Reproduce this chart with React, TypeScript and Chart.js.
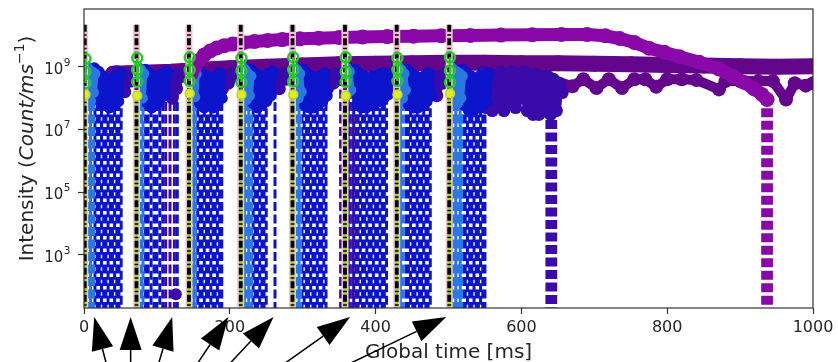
import React, { useEffect, useRef } from 'react';
import { Chart, registerables } from 'chart.js';

Chart.register(...registerables);

// ---------------- axis ticks ----------------
const xTickValues = [0, 200, 400, 600, 800, 1000];
const yTickValues = [1e3, 1e5, 1e7, 1e9];
const yTickExponents = ['3', '5', '7', '9'];

// ---------------- pulse markers (black dash-dot lines) ----------------
const pulseTimes = [1, 72, 144, 215, 286, 358, 429, 501];
const pulseTop = 2.2e10;
const ringTimes = [2, 73, 145, 216, 287, 359, 430, 502];
const ringHigh = [1.8e9, 1.9e9, 2e9, 1.9e9, 2e9, 2e9, 1.9e9, 2e9];
const ringMid = [7e8, 8e8, 8e8, 7.5e8, 8e8, 7e8, 8e8, 7.5e8];
const ringLow = [3e8, 3.3e8, 3.5e8, 3.2e8, 3.4e8, 3.3e8, 3.5e8, 3.2e8];
const yellowValues = [1.3e8, 1.2e8, 1.4e8, 1.3e8, 1.3e8, 1.2e8, 1.3e8, 1.4e8];

// ---------------- bursts after each pulse ----------------
const lightBursts: number[][][] = [
  [[3, 1.1e9], [5, 1.4e8], [7, 8e8], [9, 8e7], [11, 7e8], [13, 1.5e8], [15, 6e8]],
  [[74, 1e9], [76, 1.5e8], [78, 8e8], [80, 1e8], [82, 6e8]],
  [[146, 1e9], [148, 1.4e8], [150, 8e8], [152, 1.1e8], [154, 6e8]],
  [[217, 1e9], [219, 1.5e8], [221, 8e8], [223, 9e7], [225, 6e8], [227, 1.2e8], [229, 5e8]],
  [[288, 1e9], [290, 1.4e8], [292, 8e8], [294, 1e8], [296, 6e8], [298, 1.6e8]],
  [[360, 9e8], [362, 1.5e8], [364, 7e8], [366, 1.8e8]],
  [[431, 1e9], [433, 1.4e8], [435, 8e8], [437, 1e8], [439, 6e8], [441, 1.8e8]],
  [[503, 1e9], [505, 1.4e8], [507, 8e8], [509, 9e7], [511, 7e8], [513, 7e7], [515, 6e8], [517, 1e8], [519, 5e8]],
];

const blueBursts: number[][][] = [
  [[14, 9e8], [17, 1.1e8], [20, 7e8], [23, 8e7], [26, 5e8], [29, 6e7], [32, 3.5e8], [35, 5e7], [38, 4e8], [41, 6e7], [44, 5e8], [47, 8e7], [50, 6e8]],
  [[84, 8e8], [87, 7e7], [90, 6e8], [93, 5e7], [96, 5e8], [99, 6e7], [102, 5e8], [105, 1e8], [108, 6e8], [111, 1.3e8], [114, 7e8]],
  [[156, 8e8], [159, 7e7], [162, 6e8], [165, 5e7], [168, 5e8], [171, 6e7], [174, 4e8], [177, 5e7], [180, 5e8], [183, 7e7], [186, 6e8], [189, 1e8]],
  [[229, 8e8], [232, 7e7], [235, 6e8], [238, 5e7], [241, 5e8], [244, 6e7], [247, 5e8], [250, 8e7], [253, 6e8], [256, 1.2e8], [259, 7e8]],
  [[300, 8e8], [303, 6e7], [306, 6e8], [309, 5e7], [312, 5e8], [315, 5e7], [318, 4e8], [321, 6e7], [324, 5e8], [327, 8e7], [330, 6e8], [333, 1.2e8]],
  [[372, 8e8], [375, 6e7], [378, 6e8], [381, 5e7], [384, 5e8], [387, 5e7], [390, 4e8], [393, 6e7], [396, 5e8], [399, 7e7], [402, 5e8], [405, 8e7], [408, 6e8], [411, 1e8], [414, 6e8], [417, 1.3e8]],
  [[443, 8e8], [446, 6e7], [449, 6e8], [452, 5e7], [455, 5e8], [458, 5e7], [461, 4e8], [464, 6e7], [467, 5e8], [470, 8e7], [473, 6e8], [476, 1.2e8]],
  [[519, 8e8], [522, 6e7], [525, 6e8], [528, 4e7], [531, 5e8], [534, 4e7], [537, 4e8], [540, 5e7], [543, 5e8], [546, 6e7], [549, 5e8], [552, 8e7], [555, 6e8]],
];

const indigoBursts: number[][][] = [
  [[45, 7e8], [48, 2e8], [52, 6e8], [56, 1.6e8], [60, 5e8], [64, 3.5e8], [68, 6e8]],
  [[112, 6e8], [115, 1.5e8], [118, 5e8], [121, 1e8], [124, 5e8], [127, 2e8], [131, 6e8], [136, 5e8], [140, 6e8]],
  [[186, 6e8], [190, 2e8], [194, 5e8], [198, 3e8], [202, 6e8], [206, 5e8], [210, 6e8]],
  [[256, 6e8], [260, 2e8], [264, 5e8], [268, 2e8], [272, 6e8], [277, 4e8], [282, 6e8]],
  [[330, 6e8], [334, 2e8], [338, 5e8], [342, 3e8], [346, 6e8], [351, 5e8], [355, 6e8]],
  [[412, 6e8], [416, 2e8], [420, 5e8], [424, 6e8]],
  [[472, 6e8], [476, 2e8], [480, 5e8], [484, 1.2e8], [488, 5e8], [492, 3e8], [496, 6e8]],
  [[548, 7e8], [552, 5e7], [556, 6e8], [560, 4e7], [564, 5e8], [568, 6e7], [572, 7e8], [576, 4e7], [580, 5e8], [584, 8e7], [588, 7e8], [592, 5e7], [596, 5e8], [600, 1e8], [604, 7e8], [608, 4e7], [612, 5e8], [616, 3e7], [620, 6e8], [624, 3e7], [628, 5e8], [632, 4e7], [636, 5e8], [640, 3e7], [644, 4e8], [648, 4e7], [652, 3e8], [656, 1.5e8]],
];

const darkUpper: number[][] = [
  [40, 6e8], [80, 6.5e8], [120, 7e8], [160, 8e8], [200, 9e8], [250, 1e9], [300, 1.1e9], [350, 1.2e9], [400, 1.25e9],
  [450, 1.3e9], [500, 1.35e9], [550, 1.35e9], [600, 1.3e9], [650, 1.3e9], [700, 1.25e9], [750, 1.2e9], [800, 1.15e9],
  [850, 1.1e9], [900, 1.05e9], [950, 1.0e9], [1000, 1.05e9],
];
const darkLower: number[][] = [
  [620, 3.8e8], [640, 4e8], [670, 2.4e8], [685, 4e8], [703, 2.1e8], [720, 4e8], [738, 2.1e8], [755, 4e8], [770, 4e8],
  [785, 2.3e8], [800, 4e8], [820, 4e8], [840, 3.8e8], [871, 1.9e8], [880, 3.5e8], [900, 3.5e8], [925, 3.5e8],
  [945, 3.5e8], [963, 9e7], [975, 3e8], [990, 2.5e8], [1000, 3e8],
];
const arcBand: number[][] = [
  [147, 6e8], [152, 1e9], [158, 1.6e9], [165, 2.4e9], [173, 3.2e9], [182, 4e9], [192, 4.7e9], [204, 5.3e9], [218, 5.9e9],
  [234, 6.4e9], [252, 6.9e9], [272, 7.4e9], [296, 7.8e9], [322, 8.2e9], [350, 8.6e9], [382, 8.9e9], [416, 9.2e9],
  [452, 9.5e9], [490, 9.8e9], [530, 1e10], [572, 1.03e10], [615, 1.06e10], [655, 1.08e10], [690, 1.08e10], [715, 9.8e9],
  [735, 8e9], [755, 6e9], [775, 3.9e9], [796, 2.9e9], [817, 2.1e9], [844, 1.4e9], [871, 8.5e8], [890, 5e8], [905, 3.2e8],
  [919, 2e8], [930, 1.3e8], [937, 9e7],
];
const outlierPoints: number[][] = [[126, 55]];

// ---------------- vertical drops (values falling to ~0) ----------------
const lightDropTimes = [3, 5, 7, 9, 11, 13, 75, 77, 79, 81, 147, 149, 151, 153, 218, 220, 222, 224, 226, 228, 230,
  289, 291, 293, 295, 297, 361, 363, 365, 432, 434, 436, 438, 504, 506, 508, 510, 512, 514, 516, 518];
const blueDropTimes = [15, 18, 21, 24, 27, 30, 33, 36, 39, 42, 45, 48, 51,
  84, 88, 92, 96, 100, 104, 108, 128,
  156, 159, 162, 165, 168, 171, 174, 177, 180, 183, 186, 189,
  232, 235, 238, 241, 244, 247, 250, 262,
  299, 302, 305, 308, 311, 314, 317, 320, 323, 326, 329, 332,
  367, 370, 373, 376, 379, 382, 385, 388, 391, 394, 397, 400, 403, 406, 409, 412, 415,
  442, 445, 448, 451, 454, 457, 460, 463, 466, 469, 472, 475,
  520, 523, 526, 529, 532, 535, 538, 541, 544, 547, 550];
const indigoDropTimes = [112, 118, 124, 352, 356, 364, 369, 374];
const lateIndigoDropTimes = [635, 639, 643, 647];
const purpleDropTimes = [931, 935, 939, 943];

// ---------------- annotation arrows (x positions in ms) ----------------
const arrowTipTimes = [14, 64, 121, 198, 260, 365, 497];
const arrowTailTimes = [30, 64, 103, 157, 202, 278, 369];

// ---------------- helpers ----------------
type P = { x: number; y: number | null };
const toPoints = (pairs: number[][]): P[] => pairs.map(([x, y]) => ({ x, y }));
const burstsToData = (bursts: number[][][]): P[] => {
  const out: P[] = [];
  bursts.forEach((b) => {
    b.forEach(([x, y]) => out.push({ x, y }));
    out.push({ x: b[b.length - 1][0], y: null });
  });
  return out;
};
const dropsData = (times: number[], top: number): P[] =>
  times.flatMap((t) => [{ x: t, y: top }, { x: t, y: 1 }, { x: t, y: null }]);
// split a list of drop times into two dash-phase groups (every third line keeps phase 0)
const phaseGroup = (times: number[], k: number) => times.filter((_, i) => (i % 3 === 0 ? 0 : 1) === k);

const LIGHT = '#2a78e4';
const BLUE = '#0c14cc';
const INDIGO = '#3a0aaa';
const DARK = '#63068c';
const ARC = '#8a08a8';

export default function App() {
  const ref = useRef<HTMLCanvasElement | null>(null);

  useEffect(() => {
    if (!ref.current) return;
    const base = { showLine: true, clip: 0, tension: 0, pointHoverRadius: 0, pointHitRadius: 0 };
    const dropStyle = (color: string, k: number) => ({
      ...base, borderColor: color, borderWidth: 3, borderDash: [9, 3.5], borderDashOffset: k * 6.25,
      pointRadius: 0, borderCapStyle: 'butt',
    });
    const bandStyle = (color: string, w: number, r: number) => ({
      ...base, borderColor: color, backgroundColor: color, borderWidth: w, pointRadius: r,
      pointBackgroundColor: color, pointBorderWidth: 0, borderJoinStyle: 'round', borderCapStyle: 'round',
    });

    const datasets: any[] = [];
    [0, 1].forEach((k) => datasets.push({ ...dropStyle(BLUE, k), data: dropsData(phaseGroup(blueDropTimes, k), 3e8), order: 100 }));
    [0, 1].forEach((k) => datasets.push({ ...dropStyle(LIGHT, k), data: dropsData(phaseGroup(lightDropTimes, k), 3e8), order: 99 }));
    datasets.push({ ...dropStyle(INDIGO, 1), data: dropsData(indigoDropTimes, 3e8), order: 98 });
    datasets.push({ ...dropStyle(INDIGO, 0), data: dropsData(lateIndigoDropTimes, 5e7), order: 97 });
    datasets.push({ ...dropStyle(ARC, 0), data: dropsData(purpleDropTimes, 1.2e8), order: 96 });
    datasets.push({ ...bandStyle(DARK, 10, 7), data: toPoints(darkLower), order: 91 });
    datasets.push({ ...bandStyle(DARK, 16, 8), data: toPoints(darkUpper), order: 90 });
    datasets.push({ ...bandStyle(INDIGO, 9, 6.5), data: burstsToData(indigoBursts), order: 86 });
    datasets.push({ ...bandStyle(BLUE, 9, 6), data: burstsToData(blueBursts), order: 85 });
    datasets.push({ ...bandStyle(LIGHT, 7, 5.5), data: burstsToData(lightBursts), order: 84 });
    datasets.push({ ...bandStyle(INDIGO, 0, 6), showLine: false, data: toPoints(outlierPoints), order: 83 });
    datasets.push({ ...bandStyle(ARC, 13, 7.5), data: toPoints(arcBand), order: 80 });
    // pulse lines
    datasets.push({ ...base, data: dropsData(pulseTimes, pulseTop), borderColor: '#f0c2d2', borderWidth: 7, pointRadius: 0, order: 30 });
    datasets.push({
      ...base, data: pulseTimes.flatMap((t, i) => [{ x: t, y: yellowValues[i] }, { x: t, y: 1 }, { x: t, y: null }]),
      borderColor: '#a8d81c', borderWidth: 3.5, pointRadius: 0, order: 29,
    });
    datasets.push({
      ...base, data: dropsData(pulseTimes, pulseTop), borderColor: '#000000', borderWidth: 3.8,
      borderDash: [7, 2.5, 1.5, 2.5], pointRadius: 0, borderCapStyle: 'butt', order: 28,
    });
    datasets.push({
      ...base,
      data: ringTimes.flatMap((t, i) => [{ x: t, y: ringHigh[i] }, { x: t, y: ringMid[i] }, { x: t, y: ringLow[i] }, { x: t, y: null }]),
      borderColor: '#22cc22', borderWidth: 2.5, pointRadius: 5, pointBorderWidth: 2.5,
      pointBorderColor: '#22cc22', pointBackgroundColor: 'rgba(0,0,0,0)', order: 10,
    });
    datasets.push({
      ...base, showLine: false, data: ringTimes.map((t, i) => ({ x: t, y: yellowValues[i] })),
      pointRadius: 4.5, pointBorderWidth: 1.5, pointBorderColor: '#c2d818', pointBackgroundColor: '#dcec2a', order: 9,
    });

    const decor = {
      id: 'decor',
      afterDraw(chart: any) {
        const { ctx, chartArea: a, scales } = chart;
        const xs = scales.x;
        const ys = scales.y;
        ctx.save();
        ctx.strokeStyle = '#333';
        ctx.lineWidth = 1.2;
        ctx.strokeRect(a.left, a.top, a.right - a.left, a.bottom - a.top);

        // y tick labels with superscripts
        ctx.fillStyle = '#262626';
        ctx.textBaseline = 'alphabetic';
        yTickValues.forEach((v, i) => {
          const py = ys.getPixelForValue(v);
          ctx.font = '15px "DejaVu Sans"';
          const w1 = ctx.measureText('10').width;
          ctx.font = '10.5px "DejaVu Sans"';
          const w2 = ctx.measureText(yTickExponents[i]).width;
          const x0 = a.left - 14 - w1 - w2;
          ctx.font = '15px "DejaVu Sans"';
          ctx.fillText('10', x0, py + 7);
          ctx.font = '10.5px "DejaVu Sans"';
          ctx.fillText(yTickExponents[i], x0 + w1 + 0.5, py - 1);
        });

        // y title
        const pieces = [
          { t: 'Intensity (', f: '20px "DejaVu Sans"', dy: 0 },
          { t: 'Count/ms', f: 'italic 20px "DejaVu Sans"', dy: 0 },
          { t: '\u22121', f: '14px "DejaVu Sans"', dy: -9 },
          { t: ')', f: '20px "DejaVu Sans"', dy: 0 },
        ];
        let total = 0;
        pieces.forEach((p) => { ctx.font = p.f; total += ctx.measureText(p.t).width; });
        ctx.save();
        ctx.translate(33, 148.5);
        ctx.rotate(-Math.PI / 2);
        let cx = -total / 2;
        pieces.forEach((p) => {
          ctx.font = p.f;
          ctx.fillText(p.t, cx, p.dy);
          cx += ctx.measureText(p.t).width;
        });
        ctx.restore();

        // x title
        ctx.font = '20px "DejaVu Sans"';
        ctx.textAlign = 'center';
        ctx.fillText('Global time [ms]', (a.left + a.right) / 2, 358);

        // arrows
        ctx.fillStyle = '#000';
        ctx.strokeStyle = '#000';
        arrowTipTimes.forEach((tt, i) => {
          const tx = xs.getPixelForValue(tt);
          const ty = a.bottom + 9;
          const bx = xs.getPixelForValue(arrowTailTimes[i]);
          const by = chart.height;
          const dx = bx - tx;
          const dy = by - ty;
          const L = Math.hypot(dx, dy);
          const ux = dx / L;
          const uy = dy / L;
          const hl = 33;
          const hw = 11;
          const baseX = tx + ux * hl;
          const baseY = ty + uy * hl;
          ctx.beginPath();
          ctx.moveTo(baseX, baseY);
          ctx.lineTo(bx + ux * 10, by + uy * 10);
          ctx.lineWidth = 1.5;
          ctx.stroke();
          ctx.beginPath();
          ctx.moveTo(tx, ty);
          ctx.lineTo(baseX - uy * hw, baseY + ux * hw);
          ctx.lineTo(baseX + uy * hw, baseY - ux * hw);
          ctx.closePath();
          ctx.fill();
        });
        ctx.restore();
      },
    };

    const chart = new Chart(ref.current, {
      type: 'scatter',
      data: { datasets },
      options: {
        animation: false,
        responsive: false,
        maintainAspectRatio: false,
        devicePixelRatio: 1,
        events: [],
        layout: { padding: { top: 9, right: 25, left: 0, bottom: 0 } },
        plugins: { legend: { display: false }, tooltip: { enabled: false } },
        scales: {
          x: {
            type: 'linear',
            min: 0,
            max: 1000,
            afterBuildTicks: (s: any) => { s.ticks = xTickValues.map((value) => ({ value })); },
            afterFit: (s: any) => { s.height = 54; },
            ticks: {
              font: { family: 'DejaVu Sans', size: 16 },
              color: '#262626',
              padding: 4,
              maxRotation: 0,
              autoSkip: false,
              callback: (v: any) => String(v),
            },
            grid: { drawOnChartArea: false, tickLength: 6, tickColor: '#333', tickWidth: 1.2 },
            border: { display: false },
          },
          y: {
            type: 'logarithmic',
            min: 20,
            max: 7e10,
            afterBuildTicks: (s: any) => { s.ticks = yTickValues.map((value) => ({ value })); },
            afterFit: (s: any) => { s.width = 84; },
            ticks: { display: false },
            grid: { drawOnChartArea: false, tickLength: 6, tickColor: '#333', tickWidth: 1.2 },
            border: { display: false },
          },
        },
      } as any,
      plugins: [decor],
    });
    return () => chart.destroy();
  }, []);

  return (
    <div style={{ position: 'fixed', left: 0, top: 0, width: 838, height: 362, background: '#fff' }}>
      <canvas ref={ref} width={838} height={362} style={{ display: 'block', width: 838, height: 362 }} />
    </div>
  );
}
